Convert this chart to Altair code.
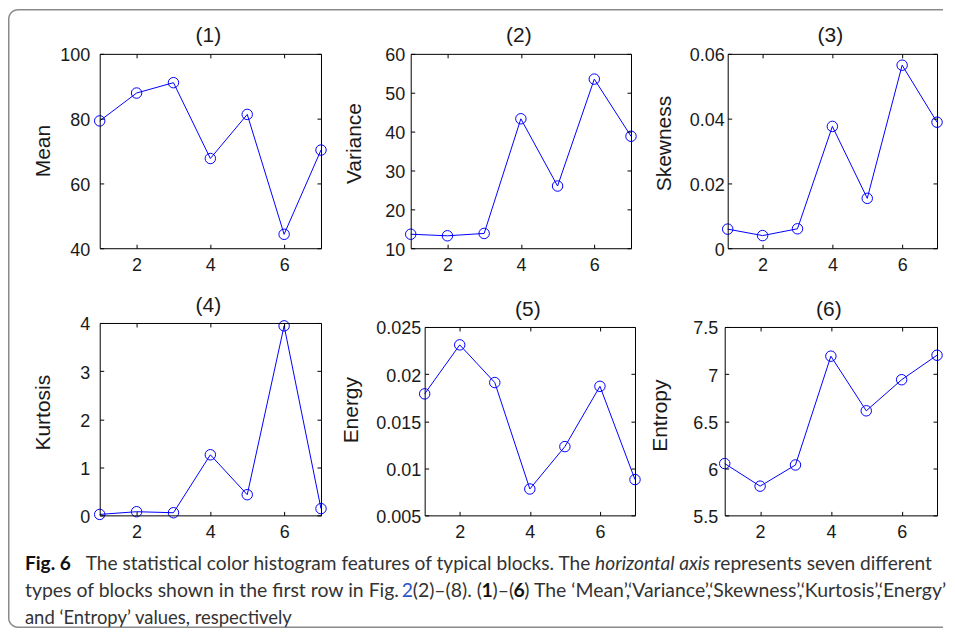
import altair as alt
import pandas as pd

# ---------------- data ----------------
x_vals = [1, 2, 3, 4, 5, 6, 7]
mean_vals = [79.3, 87.9, 91.1, 67.7, 81.3, 44.3, 70.3]
variance_vals = [13.6, 13.2, 13.8, 43.3, 26.0, 53.5, 38.8]
skewness_vals = [0.0059, 0.0039, 0.0060, 0.0376, 0.0154, 0.0565, 0.0389]
kurtosis_vals = [0.02, 0.076, 0.055, 1.26, 0.43, 3.94, 0.14]
energy_vals = [0.0179, 0.0231, 0.0191, 0.0078, 0.0123, 0.0187, 0.0088]
entropy_vals = [6.05, 5.81, 6.035, 7.19, 6.61, 6.94, 7.20]

series = [mean_vals, variance_vals, skewness_vals, kurtosis_vals, energy_vals, entropy_vals]
panel_titles = ["(1)", "(2)", "(3)", "(4)", "(5)", "(6)"]
y_titles = ["Mean", "Variance", "Skewness", "Kurtosis", "Energy", "Entropy"]
y_domains = [[40, 100], [10, 60], [0, 0.06], [0, 4], [0.005, 0.025], [5.5, 7.5]]
y_ticks = [[40, 60, 80, 100], [10, 20, 30, 40, 50, 60], [0, 0.02, 0.04, 0.06],
           [0, 1, 2, 3, 4], [0.005, 0.01, 0.015, 0.02, 0.025], [5.5, 6, 6.5, 7, 7.5]]
x_ticks = [2, 4, 6]

caption_segments = [
    # text, x, line, weight, style, color
    ("Fig. 6", 25, 0, "bold", "normal", "#111111"),
    ("The statistical color histogram features of typical blocks. The", 86, 0, "normal", "normal", "#333333"),
    ("horizontal axis", 597, 0, "normal", "italic", "#333333"),
    ("represents seven different", 716, 0, "normal", "normal", "#333333"),
    ("types of blocks shown in the first row in Fig.", 25, 1, "normal", "normal", "#333333"),
    ("2", 403, 1, "normal", "normal", "#2a55c8"),
    ("(2)\u2013(8). (", 414, 1, "normal", "normal", "#333333"),
    ("1", 483, 1, "bold", "normal", "#111111"),
    (")\u2013(", 494, 1, "normal", "normal", "#333333"),
    ("6", 515, 1, "bold", "normal", "#111111"),
    (") The \u2018Mean\u2019,\u2018Variance\u2019,\u2018Skewness\u2019,\u2018Kurtosis\u2019,\u2018Energy\u2019", 526, 1, "normal", "normal", "#333333"),
    ("and \u2018Entropy\u2019 values, respectively", 25, 2, "normal", "normal", "#333333"),
]
caption_baselines = [571, 598, 625]
caption_sizes = [19.2, 19.5, 18.5]

# ---------------- layout (style) ----------------
CELL_W, CELL_H = 226, 195
ORIGIN_X, ORIGIN_Y = 100, 53  # page position of first cell
# s, visible width, t, visible height, titleX, titleY, label padding
panel_layout = [
    (0, 222, 0, 195, -50, 97, 10),
    (0, 221, 0, 195, -50, 89.5, 6),
    (6, 210, 0, 195, -57, 89.5, 3.5),
    (0, 222, 0, 193, -50, 89.5, 10),
    (14, 211, 4, 189, -67.4, 87, 4),
    (3, 213, 4, 189, -58.4, 92.5, 7),
]
FONT = "Liberation Sans"
CAP_FONT = "Lato"
TXT = "#1a1a1a"
BLUE = "#0000ff"


def tick_axis(orient, offset, values):
    return alt.Axis(orient=orient, offset=offset, values=values, labels=False,
                    ticks=True, tickSize=4, tickColor="black", tickWidth=1,
                    domain=True, domainColor="black", domainWidth=1,
                    grid=False, title=None, zindex=1)


def make_panel(i):
    df = pd.DataFrame({"x": x_vals, "v": series[i]})
    s, wv, t, hv, tx, ty, lp = panel_layout[i]
    xs = alt.Scale(domain=[1, 7], range=[s, s + wv], nice=False, zero=False)
    ys = alt.Scale(domain=y_domains[i], range=[t + hv, t], nice=False, zero=False)

    x_lab = alt.Axis(orient="bottom", offset=t + hv - CELL_H, values=x_ticks,
                     ticks=False, tickSize=0, domain=False, grid=False, title=None,
                     labelPadding=8, labelFontSize=18, labelFont=FONT, labelColor=TXT,
                     labelFlush=False, zindex=1)
    y_lab = alt.Axis(orient="left", offset=-s, values=y_ticks[i],
                     labelExpr="'' + datum.value",
                     ticks=False, tickSize=0, domain=False, grid=False,
                     labelPadding=lp, labelFontSize=18, labelFont=FONT, labelColor=TXT,
                     labelOffset=2, labelOverlap=False, labelFlush=False,
                     title=y_titles[i], titleFont=FONT, titleFontSize=21,
                     titleFontWeight="normal", titleColor=TXT, titleAngle=270,
                     titleBaseline="alphabetic", titleAlign="center",
                     titleX=tx, titleY=ty, zindex=1)

    line = alt.Chart(df).mark_line(color=BLUE, strokeWidth=1).encode(
        x=alt.X("x:Q", scale=xs, axis=x_lab),
        y=alt.Y("v:Q", scale=ys, axis=y_lab),
    )
    pts = alt.Chart(df).mark_point(shape="circle", size=110, filled=False,
                                   color=BLUE, strokeWidth=1, opacity=1).encode(
        x=alt.X("x:Q", scale=xs, axis=tick_axis("top", -(t + hv), x_ticks)),
        y=alt.Y("v:Q", scale=ys, axis=tick_axis("right", s - CELL_W, y_ticks[i])),
    )
    ghost = alt.Chart(df).mark_point(opacity=0).encode(
        x=alt.X("x:Q", scale=xs, axis=tick_axis("bottom", t - CELL_H, x_ticks)),
        y=alt.Y("v:Q", scale=ys, axis=tick_axis("left", -(s + wv), y_ticks[i])),
    )
    ttl = alt.Chart(pd.DataFrame({"t": [panel_titles[i]]})).mark_text(
        font=FONT, fontSize=21, color=TXT, align="center", baseline="alphabetic"
    ).encode(text="t:N", x=alt.value(s + wv / 2 - 2), y=alt.value(t - 11.5))

    layers = [line, pts, ghost, ttl]
    if i == 0:
        one = pd.DataFrame({"b": [0]})
        border_outer = alt.Chart(one).mark_rect(
            fill="#8a8a8a", cornerRadiusTopLeft=10, cornerRadiusBottomLeft=10
        ).encode(x=alt.value(-92), x2=alt.value(846), y=alt.value(-45), y2=alt.value(576))
        border_inner = alt.Chart(one).mark_rect(
            fill="white", cornerRadiusTopLeft=8.5, cornerRadiusBottomLeft=8.5
        ).encode(x=alt.value(-90.5), x2=alt.value(847), y=alt.value(-43.5), y2=alt.value(574.5))
        cap_layers = []
        for (txt, xp, ln, wt, st, col) in caption_segments:
            cap_layers.append(
                alt.Chart(pd.DataFrame({"t": [txt]})).mark_text(
                    font=CAP_FONT, fontSize=caption_sizes[ln], fontWeight=wt, fontStyle=st,
                    color=col, align="left", baseline="alphabetic"
                ).encode(text="t:N", x=alt.value(xp - ORIGIN_X),
                         y=alt.value(caption_baselines[ln] - ORIGIN_Y))
            )
        layers = [border_outer, border_inner] + cap_layers + layers
    return alt.layer(*layers).resolve_axis(x="independent", y="independent").properties(
        width=CELL_W, height=CELL_H)


panels = [make_panel(i) for i in range(6)]
chart = alt.ConcatChart(
    concat=panels, columns=3, bounds="flush",
    spacing={"row": 75, "column": 86},
).properties(padding=0, background="white").configure_view(stroke=None)

chart.save("out.html", embed_options={"renderer": "svg", "actions": False})
